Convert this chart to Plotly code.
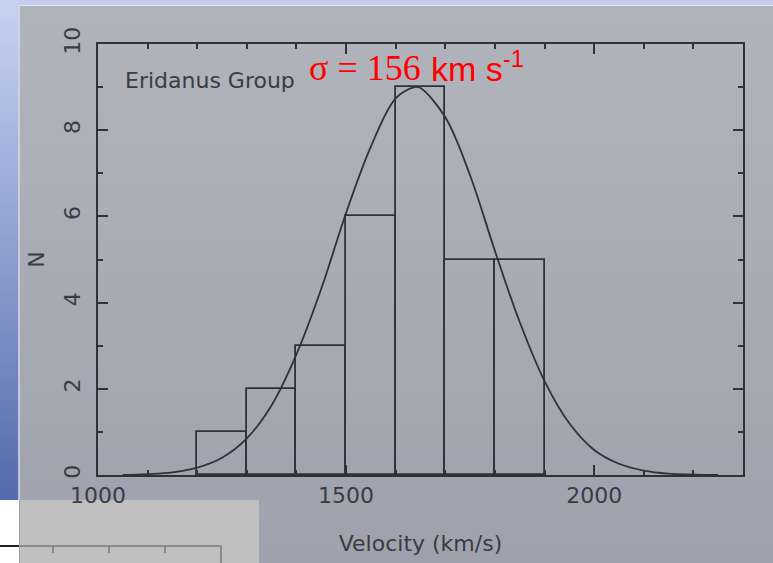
import plotly.graph_objects as go

# ---------------- data ----------------
bin_left = [1200, 1300, 1400, 1500, 1600, 1700, 1800]
bin_width = 100
counts = [1, 2, 3, 6, 9, 5, 5]

curve_v = [1050, 1100, 1150, 1200, 1250, 1300, 1350, 1400, 1450, 1500, 1550, 1600,
           1638, 1650, 1700, 1750, 1800, 1850, 1900, 1950, 2000, 2050, 2100, 2150,
           2200, 2250]
curve_n = [0.00, 0.02, 0.06, 0.17, 0.40, 0.85, 1.62, 2.80, 4.32, 6.08, 7.62, 8.74,
           9.00, 8.98, 8.30, 6.95, 5.20, 3.55, 2.18, 1.20, 0.58, 0.26, 0.10, 0.03,
           0.01, 0.00]

x_ticks = [1000, 1500, 2000]
y_ticks = [0, 2, 4, 6, 8, 10]

group_label = "Eridanus Group"
sigma_part = "σ = 156"
unit_part = "km s<sup>-1</sup>"

# ---------------- layout geometry ----------------
FW, FH = 773, 563
L, T, W, H = 98, 44, 645, 431


def px(xp):
    return (xp - L) / W


def py(yp):
    return (T + H - yp) / H


INK = "#30323a"
TXT = "#3a3c42"

fig = go.Figure()

fig.add_trace(go.Bar(
    x=bin_left, y=counts, width=bin_width, offset=0,
    marker=dict(color="rgba(0,0,0,0)", line=dict(color=INK, width=1.8)),
    showlegend=False, hoverinfo="skip"))

fig.add_trace(go.Scatter(
    x=curve_v, y=curve_n, mode="lines", line=dict(color=INK, width=1.8, shape="spline"),
    showlegend=False, hoverinfo="skip"))

shapes = []


def rect(x0, y0, x1, y1, color):
    shapes.append(dict(type="rect", xref="paper", yref="paper",
                       x0=px(x0), x1=px(x1), y0=py(y0), y1=py(y1),
                       fillcolor=color, line=dict(width=0), layer="below"))


def line(x0, y0, x1, y1, color, w):
    shapes.append(dict(type="line", xref="paper", yref="paper",
                       x0=px(x0), x1=px(x1), y0=py(y0), y1=py(y1),
                       line=dict(color=color, width=w), layer="below"))


def lerp(c0, c1, t):
    return "rgb(%d,%d,%d)" % tuple(round(a + (b - a) * t) for a, b in zip(c0, c1))


# main grey panel with subtle vertical gradient
nb = 40
top_c, bot_c = (178, 180, 188), (158, 162, 174)
for i in range(nb):
    y0 = 5 + (FH - 5) * i / nb
    y1 = 5 + (FH - 5) * (i + 1) / nb + 1
    rect(19, y0, FW, y1, lerp(top_c, bot_c, (i + 0.5) / nb))

# top light-blue strip
rect(0, 0, FW, 5, "#c4cef0")
# left blue gradient strip
sb_top, sb_bot = (200, 211, 242), (84, 106, 172)
nbs = 80
for i in range(nbs):
    y0 = 500 * i / nbs
    y1 = 500 * (i + 1) / nbs + 1
    rect(0, y0, 18.5, min(y1, 500), lerp(sb_top, sb_bot, (i + 0.5) / nbs))
# whitish panel borders
line(19, 5, 19, 500, "#e2e6f0", 1.2)
line(19, 5.5, FW, 5.5, "#e2e6f0", 1.2)
# white bottom-left corner + light grey inset box
rect(0, 500, 19, FH, "#ffffff")
rect(20, 500, 259, FH, "#c0c0c0")
line(20, 546, 221, 546, "#8a8a8a", 2)
for tx in [53, 109, 165]:
    line(tx, 546, tx, 553, "#8a8a8a", 2)
line(221, 546, 221, FH, "#8a8a8a", 2)
line(0, 546, 19, 546, "#222222", 2)

annotations = [
    dict(text=group_label, xref="paper", yref="paper", x=px(123), y=py(80),
         xanchor="left", yanchor="middle", showarrow=False,
         font=dict(family="DejaVu Sans", size=22, color=TXT)),
    dict(text=sigma_part, xref="paper", yref="paper", x=px(307), y=py(90),
         xanchor="left", yanchor="bottom", showarrow=False,
         font=dict(family="Liberation Serif", size=36, color="#ff0000")),
    dict(text=unit_part, xref="paper", yref="paper", x=px(429), y=py(90),
         xanchor="left", yanchor="bottom", showarrow=False,
         font=dict(family="Liberation Sans", size=34, color="#ff0000")),
]

axis_common = dict(showline=True, linecolor=INK, linewidth=2, mirror="ticks",
                   ticks="inside", ticklen=10, tickwidth=2, tickcolor=INK,
                   showgrid=False, zeroline=False,
                   tickfont=dict(family="DejaVu Sans", size=22, color=TXT))

fig.update_layout(
    width=FW, height=FH,
    margin=dict(l=L, r=FW - L - W, t=T, b=FH - T - H, pad=0),
    paper_bgcolor="#a9adb6", plot_bgcolor="rgba(0,0,0,0)",
    bargap=0, shapes=shapes, annotations=annotations,
    xaxis=dict(range=[1000, 2300], tickvals=x_ticks, ticktext=[str(v) for v in x_ticks],
               minor=dict(dtick=100, tick0=1000, ticks="inside", ticklen=5, tickwidth=2, tickcolor=INK),
               title=dict(text="Velocity (km/s)", standoff=28,
                          font=dict(family="DejaVu Sans", size=22, color=TXT)),
               **axis_common),
    yaxis=dict(range=[0, 10], tickvals=y_ticks, ticktext=[str(v) for v in y_ticks], tickangle=-90,
               ticklabelstandoff=7,
               minor=dict(dtick=1, tick0=0, ticks="inside", ticklen=5, tickwidth=2, tickcolor=INK),
               title=dict(text="N", standoff=10,
                          font=dict(family="DejaVu Sans", size=22, color=TXT)),
               **axis_common),
)

fig.write_html("out.html")
